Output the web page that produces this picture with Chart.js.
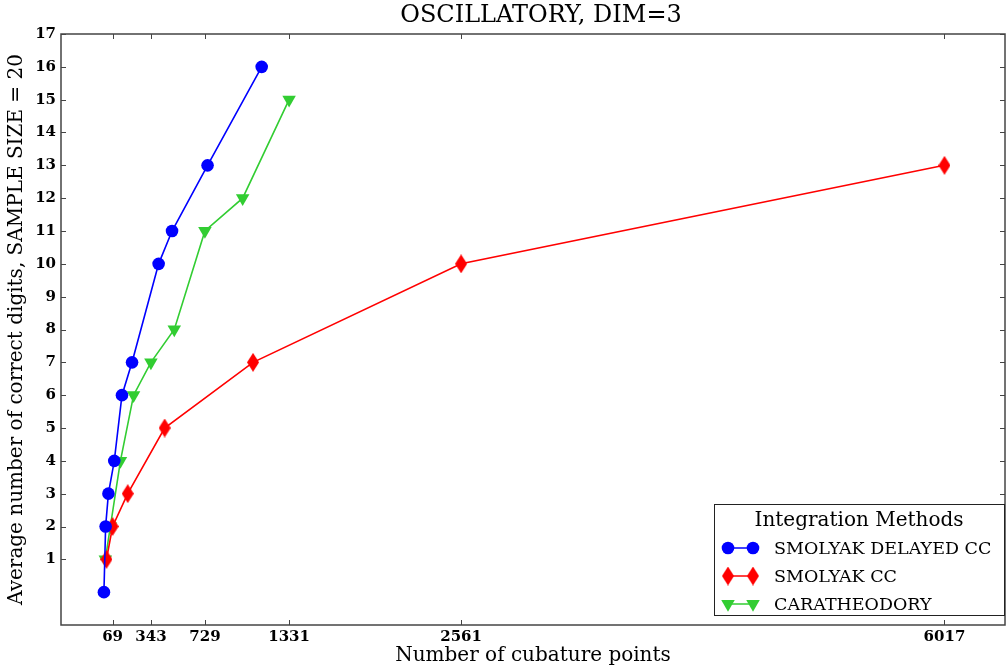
<!DOCTYPE html>
<html>
<head>
<meta charset="utf-8">
<script src="https://cdn.jsdelivr.net/npm/chart.js@4/dist/chart.umd.min.js"></script>
<style>
  body { margin: 0; background: #fff; }
  #wrap { width: 1006px; height: 671px; }
</style>
</head>
<body>
<div id="wrap"><canvas id="chart" width="1006" height="671"></canvas></div>
<script>
// values
const delayedX = [7, 19, 39, 81, 136, 208, 398, 494, 748, 1135];
const delayedY = [0, 2, 3, 4, 6, 7, 10, 11, 13, 16];
const smolyakX = [25, 69, 177, 441, 1073, 2561, 6017];
const smolyakY = [1, 2, 3, 5, 7, 10, 13];
const caraX = [17, 53, 125, 219, 343, 510, 729, 999, 1331];
const caraY = [1, 2, 4, 6, 7, 8, 11, 12, 15];
const xTicks = [69, 343, 729, 1331, 2561, 6017];
const yTicks = [1, 2, 3, 4, 5, 6, 7, 8, 9, 10, 11, 12, 13, 14, 15, 16, 17];

const serif = "'DejaVu Serif', 'Liberation Serif', serif";

const toPoints = (xs, ys) => xs.map((x, i) => ({ x: x, y: ys[i] }));

// thin diamond like matplotlib 'd'
const diamond = document.createElement('canvas');
diamond.width = 12; diamond.height = 19;
(() => {
    const c = diamond.getContext('2d');
    c.fillStyle = '#ff0000';
    c.beginPath();
    c.moveTo(6, 0); c.lineTo(12, 9.5); c.lineTo(6, 19); c.lineTo(0, 9.5);
    c.closePath();
    c.fill();
})();

// inward tick marks on all four sides + frame + title + legend
const frame = {
    id: 'frame',
    afterDatasetsDraw(chart) {
        const { ctx, chartArea: a, scales } = chart;
        ctx.save();
        ctx.strokeStyle = '#444';
        ctx.lineWidth = 1;
        ctx.beginPath();
        xTicks.forEach(v => {
            const px = Math.round(scales.x.getPixelForValue(v)) + 0.5;
            ctx.moveTo(px, a.bottom); ctx.lineTo(px, a.bottom - 5);
            ctx.moveTo(px, a.top); ctx.lineTo(px, a.top + 5);
        });
        yTicks.forEach(v => {
            const py = Math.round(scales.y.getPixelForValue(v)) + 0.5;
            ctx.moveTo(a.left, py); ctx.lineTo(a.left + 5, py);
            ctx.moveTo(a.right, py); ctx.lineTo(a.right - 5, py);
        });
        ctx.stroke();
        ctx.lineWidth = 1.5;
        ctx.strokeRect(a.left, a.top, a.right - a.left, a.bottom - a.top);
        ctx.restore();
    },
    afterDraw(chart) {
        const { ctx, chartArea: a } = chart;
        ctx.save();
        ctx.fillStyle = '#000';
        ctx.textAlign = 'center';
        ctx.textBaseline = 'middle';
        ctx.font = '24px ' + serif;
        ctx.fillText('OSCILLATORY, DIM=3', (a.left + a.right) / 2 + 8, 16);

        const w = 290, h = 111;
        const x0 = a.right - w - 1, y0 = a.bottom - h - 10;
        ctx.fillStyle = '#fff';
        ctx.fillRect(x0, y0, w, h);
        ctx.strokeStyle = '#222';
        ctx.lineWidth = 1;
        ctx.strokeRect(x0 + 0.5, y0 + 0.5, w, h);
        ctx.fillStyle = '#000';
        ctx.font = '20px ' + serif;
        ctx.fillText('Integration Methods', x0 + w / 2, y0 + 17);
        ctx.textAlign = 'left';
        ctx.font = '17.5px ' + serif;
        chart.data.datasets.forEach((ds, i) => {
            const ly = y0 + 44 + i * 28;
            ctx.strokeStyle = ds.borderColor;
            ctx.lineWidth = 1.5;
            ctx.beginPath();
            ctx.moveTo(x0 + 14, ly); ctx.lineTo(x0 + 39, ly);
            ctx.stroke();
            [x0 + 14, x0 + 39].forEach(px => {
                ctx.fillStyle = ds.pointBackgroundColor;
                Chart.helpers.drawPoint(ctx, {
                    pointStyle: ds.pointStyle, radius: ds.pointRadius,
                    rotation: ds.pointRotation || 0, borderWidth: 0
                }, px, ly);
            });
            ctx.fillStyle = '#000';
            ctx.fillText(ds.label, x0 + 60, ly + 1);
        });
        ctx.restore();
    }
};

new Chart(document.getElementById('chart').getContext('2d'), {
    type: 'scatter',
    data: {
        datasets: [{
            label: 'SMOLYAK DELAYED CC',
            data: toPoints(delayedX, delayedY),
            showLine: true,
            borderColor: '#0000ff',
            backgroundColor: '#0000ff',
            pointBackgroundColor: '#0000ff',
            pointBorderWidth: 0,
            borderWidth: 1.6,
            pointStyle: 'circle',
            pointRadius: 6.3
        }, {
            label: 'SMOLYAK CC',
            data: toPoints(smolyakX, smolyakY),
            showLine: true,
            borderColor: '#ff0000',
            backgroundColor: '#ff0000',
            pointBackgroundColor: '#ff0000',
            pointBorderWidth: 0,
            borderWidth: 1.6,
            pointStyle: diamond,
            pointRadius: 7
        }, {
            label: 'CARATHEODORY',
            data: toPoints(caraX, caraY),
            showLine: true,
            borderColor: '#32cd32',
            backgroundColor: '#32cd32',
            pointBackgroundColor: '#32cd32',
            pointBorderWidth: 0,
            borderWidth: 1.6,
            pointStyle: 'triangle',
            pointRotation: 180,
            pointRadius: 7.8
        }]
    },
    options: {
        responsive: false,
        animation: false,
        layout: { autoPadding: false, padding: { left: 0, right: 1, top: 34, bottom: 0 } },
        plugins: {
            legend: { display: false },
            tooltip: { enabled: false },
            title: { display: false }
        },
        scales: {
            x: {
                type: 'linear',
                min: -300,
                max: 6450,
                afterBuildTicks: s => { s.ticks = xTicks.map(v => ({ value: v })); },
                afterFit: s => { s.height = 46; s.paddingLeft = 0; s.paddingRight = 0; },
                grid: { display: false, drawTicks: false },
                border: { display: false },
                ticks: {
                    color: '#000',
                    padding: 3,
                    maxRotation: 0,
                    autoSkip: false,
                    font: { family: serif, size: 15, weight: 'bold' },
                    callback: v => String(v)
                },
                title: {
                    display: true,
                    text: 'Number of cubature points',
                    color: '#000',
                    font: { family: serif, size: 20 },
                    padding: { top: 0, bottom: 3 }
                }
            },
            y: {
                min: -1,
                max: 17,
                afterBuildTicks: s => { s.ticks = yTicks.map(v => ({ value: v })); },
                afterFit: s => { s.width = 61; s.paddingTop = 0; s.paddingBottom = 0; },
                grid: { display: false, drawTicks: false },
                border: { display: false },
                ticks: {
                    color: '#000',
                    padding: 5,
                    font: { family: serif, size: 15, weight: 'bold' }
                },
                title: {
                    display: true,
                    text: 'Average number of correct digits, SAMPLE SIZE = 20',
                    color: '#000',
                    font: { family: serif, size: 20 },
                    padding: { top: 5, bottom: 0 }
                }
            }
        }
    },
    plugins: [frame]
});
</script>
</body>
</html>
